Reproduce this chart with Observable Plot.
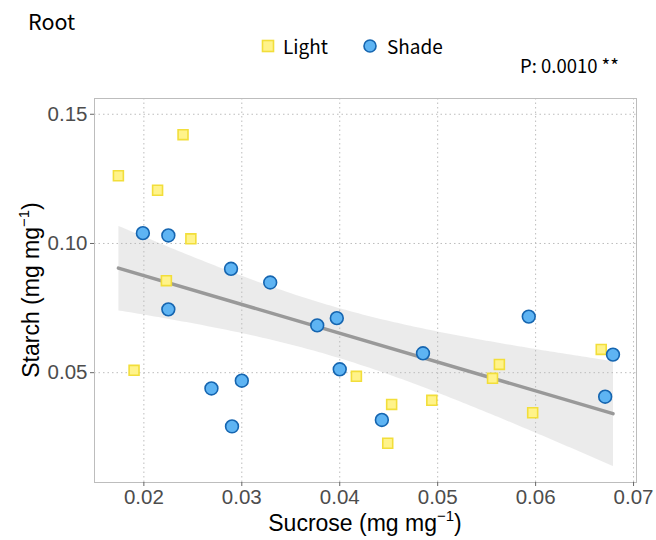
<!DOCTYPE html>
<html><head><meta charset="utf-8">
<script src="https://cdn.jsdelivr.net/npm/d3@7"></script>
<script src="https://cdn.jsdelivr.net/npm/@observablehq/plot@0.6"></script>
<style>
body{margin:0;background:#fff;}
#chart svg{display:block;}
</style></head>
<body>
<div id="chart"></div>
<script>
const lightSucrose = [0.0174,0.0214,0.0240,0.0248,0.0223,0.0190,0.0417,0.0453,0.0449,0.0494,0.0563,0.0556,0.0597,0.0667];
const lightStarch  = [0.1262,0.1206,0.1421,0.1018,0.0856,0.0509,0.0486,0.0377,0.0227,0.0393,0.0532,0.0478,0.0345,0.0590];
const shadeSucrose = [0.0199,0.0225,0.0225,0.0289,0.0329,0.0269,0.0300,0.0290,0.0377,0.0397,0.0400,0.0485,0.0443,0.0593,0.0679,0.0671];
const shadeStarch  = [0.1040,0.1031,0.0745,0.0902,0.0849,0.0439,0.0469,0.0292,0.0683,0.0711,0.0513,0.0575,0.0317,0.0717,0.0570,0.0407];
const xTicks = [0.02,0.03,0.04,0.05,0.06,0.07];
const yTicks = [0.05,0.10,0.15];
const xTickLabels = ["0.02","0.03","0.04","0.05","0.06","0.07"];
const yTickLabels = ["0.05","0.10","0.15"];
const groups = ["Light","Shade"];
const title = "Root";
const pText = "P: 0.0010 **";

const light = lightSucrose.map((x,i)=>({x, y: lightStarch[i], g: groups[0]}));
const shade = shadeSucrose.map((x,i)=>({x, y: shadeStarch[i], g: groups[1]}));
const all = light.concat(shade);

const W = 656, H = 540;
const plot = Plot.plot({
  width: W, height: H,
  marginLeft: 94, marginRight: 20, marginTop: 98, marginBottom: 58,
  style: {fontFamily: "'Liberation Sans', Arial, sans-serif", background: "#fff"},
  x: {domain: [0.01496, 0.0703]},
  y: {domain: [0.0075, 0.1561]},
  marks: [
    Plot.gridX(xTicks, {stroke: "#bdbdbd", strokeOpacity: 1, strokeDasharray: "1.5,3"}),
    Plot.gridY(yTicks, {stroke: "#bdbdbd", strokeOpacity: 1, strokeDasharray: "1.5,3"}),
    Plot.linearRegressionY(all, {x: "x", y: "y", stroke: "#999999", strokeWidth: 3.5, fill: "#bdbdbd", fillOpacity: 0.3, ci: 0.95}),
    Plot.dot(light, {x: "x", y: "y", symbol: "square", r: 5.6, fill: "#FFF38A", stroke: "#F2DE3A", strokeWidth: 1.6}),
    Plot.dot(shade, {x: "x", y: "y", r: 6.4, fill: "#5EB4F3", stroke: "#1565B0", strokeWidth: 1.6}),
    Plot.frame({stroke: "#bdbdbd"}),
    Plot.axisX(xTicks, {tickFormat: (d,i) => xTickLabels[i], fontSize: 20.5, fill: "#4d4d4d", stroke: "#666", tickSize: 4, tickPadding: 3, label: null}),
    Plot.axisY(yTicks, {tickFormat: (d,i) => yTickLabels[i], fontSize: 20.5, fill: "#4d4d4d", stroke: "#666", tickSize: 4, tickPadding: 3, label: null})
  ]
});
document.getElementById("chart").appendChild(plot);

const svg = d3.select(plot);
const cjk = "'Noto Sans CJK SC', 'Noto Sans', sans-serif";
const sans = "'Liberation Sans', Arial, sans-serif";
function txt(x, y, s, size, fam) {
  return svg.append("text").attr("x", x).attr("y", y).attr("text-anchor", "start")
    .attr("font-family", fam).attr("font-size", size).attr("fill", "#000").text(s);
}
txt(28, 30, title, 21.5, cjk);
// legend
svg.append("rect").attr("x", 262.5).attr("y", 40.5).attr("width", 11).attr("height", 11).attr("fill", "#FFF38A").attr("stroke", "#F2DE3A").attr("stroke-width", 1.6);
txt(283, 54, groups[0], 19, cjk);
svg.append("circle").attr("cx", 370).attr("cy", 46).attr("r", 6).attr("fill", "#5EB4F3").attr("stroke", "#1565B0").attr("stroke-width", 1.6);
txt(387, 54, groups[1], 19, cjk);
txt(520, 73, pText, 18.5, cjk);

// axis titles
const xt = svg.append("text").attr("x", 365).attr("y", 531).attr("text-anchor", "middle").attr("font-size", 23).attr("fill", "#000").attr("font-family", sans);
xt.append("tspan").text("Sucrose (mg mg");
xt.append("tspan").attr("dy", -10).attr("font-size", 15).text("\u22121");
xt.append("tspan").attr("dy", 10).text(")");
const yt = svg.append("text").attr("transform", "translate(39,290) rotate(-90)").attr("text-anchor", "middle").attr("font-size", 23).attr("fill", "#000").attr("font-family", sans);
yt.append("tspan").text("Starch (mg mg");
yt.append("tspan").attr("dy", -10).attr("font-size", 15).text("\u22121");
yt.append("tspan").attr("dy", 10).text(")");
</script>
</body></html>
